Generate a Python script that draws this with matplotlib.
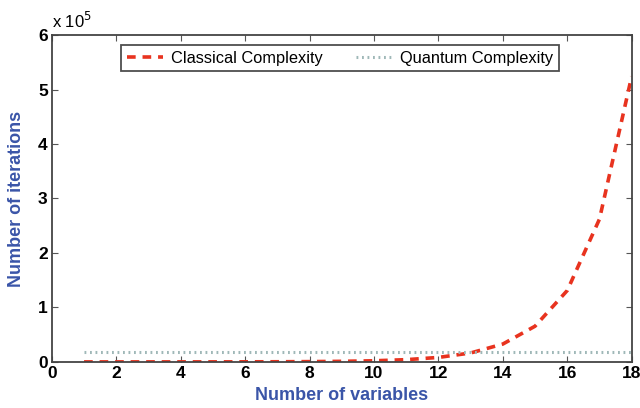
import matplotlib.pyplot as plt
from matplotlib.ticker import FuncFormatter

# Data
n_vars = [1, 2, 3, 4, 5, 6, 7, 8, 9, 10, 11, 12, 13, 14, 15, 16, 17, 18]
classical = [4, 8, 16, 32, 64, 128, 256, 512, 1024, 2048, 4096, 8192,
             16384, 32768, 65536, 131072, 262144, 524288]
quantum = [18000] * 18

plt.rcParams['font.family'] = ['Liberation Sans', 'DejaVu Sans']

fig = plt.figure(figsize=(6.4, 4.08), dpi=100)
ax = fig.add_axes([0.081, 0.113, 0.906, 0.801])

ax.plot(n_vars, classical, color='#e8331f', linestyle=(0, (2.4, 1.9)),
        linewidth=2.6, label='Classical Complexity')
ax.plot(n_vars, quantum, color='#9fb8b8', linestyle=(0, (0.6, 1.2)),
        linewidth=2.2, label='Quantum Complexity')

ax.set_xlim(0, 18)
ax.set_ylim(0, 6e5)
ax.set_xticks(range(0, 19, 2))
ax.set_yticks([i * 1e5 for i in range(7)])
ax.yaxis.set_major_formatter(FuncFormatter(lambda v, p: '%d' % round(v / 1e5)))
ax.tick_params(direction='in', top=True, right=True, length=4,
               labelsize=12.5, pad=3, color='#555555')
for lbl in ax.get_xticklabels() + ax.get_yticklabels():
    lbl.set_fontweight('bold')
for s in ax.spines.values():
    s.set_linewidth(1.3)
    s.set_color('#444444')

ax.text(0.0, 1.012, 'x 10$^5$', transform=ax.transAxes, fontsize=12,
        ha='left', va='bottom')

ax.set_xlabel('Number of variables', fontsize=13, fontweight='bold',
              color='#3a55a8', labelpad=4)
ax.set_ylabel('Number of iterations', fontsize=13, fontweight='bold',
              color='#3a55a8')
ax.yaxis.set_label_coords(-0.046, 0.5)

leg = ax.legend(loc='upper center', ncol=2, bbox_to_anchor=(0.497, 0.995),
                fontsize=11.8, frameon=True, fancybox=False, handlelength=2.2,
                handletextpad=0.5, columnspacing=2.0, borderpad=0.35)
leg.get_frame().set_edgecolor('#222222')
leg.get_frame().set_linewidth(1.3)

fig.savefig('out.png', dpi=100)
